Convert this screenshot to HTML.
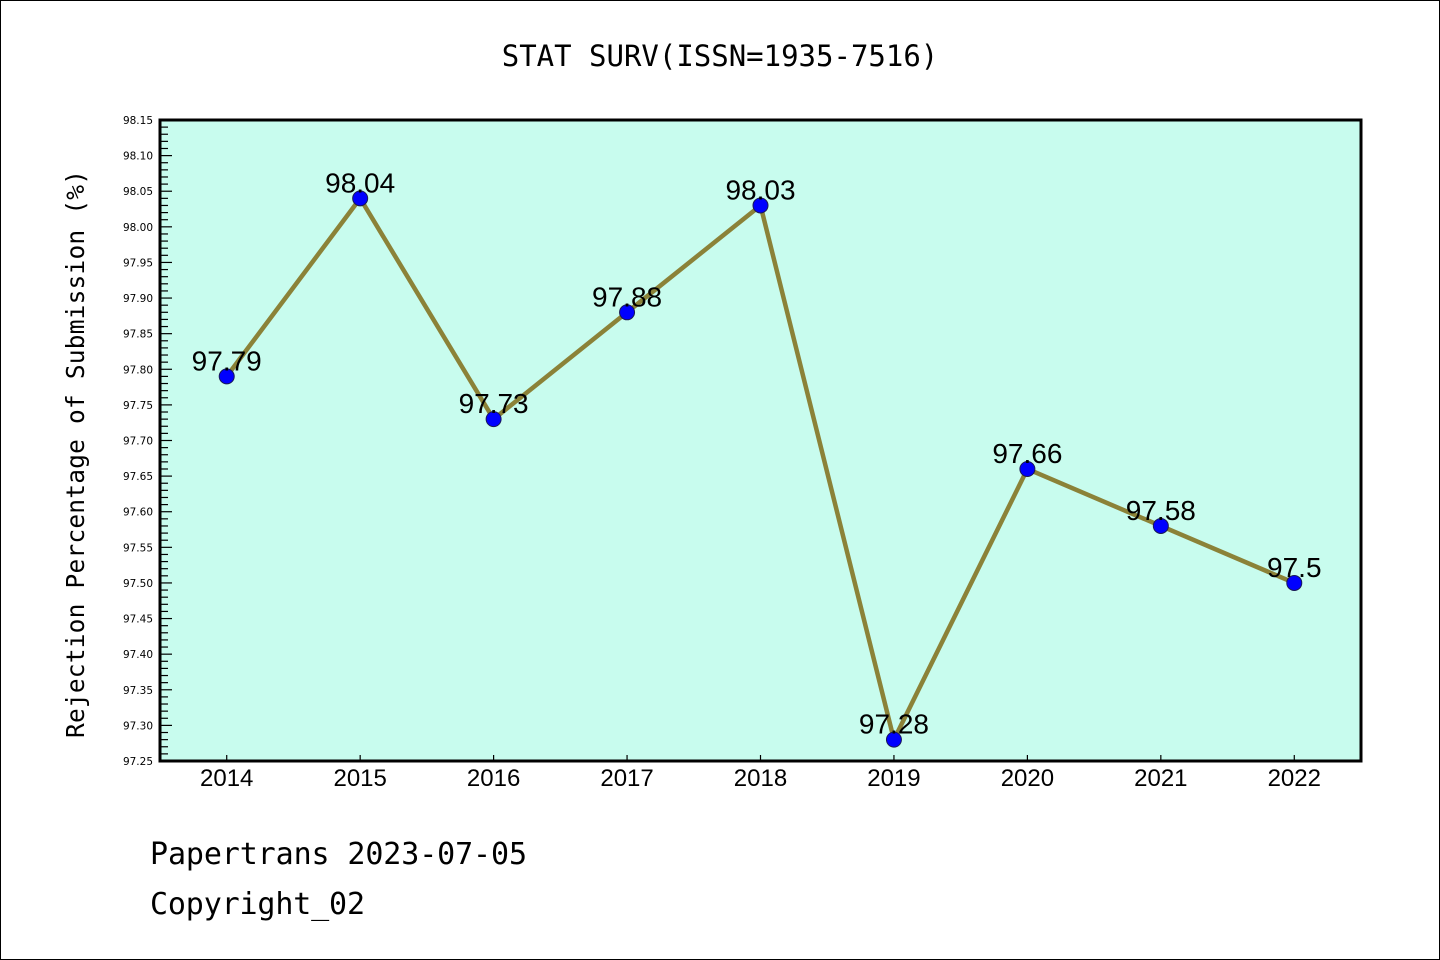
<!DOCTYPE html>
<html><head><meta charset="utf-8"><style>
body{margin:0;background:#fff}
svg{display:block}
</style></head><body>
<svg id="c" width="1440" height="960" xmlns="http://www.w3.org/2000/svg">
<rect x="0.5" y="0.5" width="1439" height="959" fill="#fff" stroke="#000"/>
<text x="720" y="66" text-anchor="middle" font-family="'DejaVu Sans Mono','WenQuanYi Zen Hei',monospace" font-size="29">STAT SURV(ISSN=1935-7516)</text>
<rect x="160" y="120" width="1201" height="641" fill="#c8fcee"/>
<g id="ticks"></g>
<g id="series"></g>
<rect x="160" y="120" width="1201" height="641" fill="none" stroke="#000" stroke-width="3"/>
<text transform="translate(84,454) rotate(-90)" text-anchor="middle" font-family="'DejaVu Sans Mono','WenQuanYi Zen Hei',monospace" font-size="24.5" textLength="568">Rejection Percentage of Submission (%)</text>
<text x="150" y="864" font-family="'DejaVu Sans Mono','WenQuanYi Zen Hei',monospace" font-size="30" textLength="377">Papertrans 2023-07-05</text>
<text x="150" y="914" font-family="'DejaVu Sans Mono','WenQuanYi Zen Hei',monospace" font-size="30" textLength="215">Copyright_02</text>
</svg>
<script>
const years = [2014,2015,2016,2017,2018,2019,2020,2021,2022];
const values = [97.79,98.04,97.73,97.88,98.03,97.28,97.66,97.58,97.5];
const labels = ["97.79","98.04","97.73","97.88","98.03","97.28","97.66","97.58","97.5"];
const yTicks = ["97.25","97.30","97.35","97.40","97.45","97.50","97.55","97.60","97.65","97.70","97.75","97.80","97.85","97.90","97.95","98.00","98.05","98.10","98.15"];
const NS='http://www.w3.org/2000/svg';
const L=160,R=1361,T=120,B=761,yMin=97.25,yMax=98.15,xMin=2013.5,xMax=2022.5;
const sx=v=>L+(v-xMin)/(xMax-xMin)*(R-L);
const sy=v=>B-(v-yMin)/(yMax-yMin)*(B-T);
function mk(tag,attrs,parent){const e=document.createElementNS(NS,tag);for(const k in attrs)e.setAttribute(k,attrs[k]);parent.appendChild(e);return e;}
const tg=document.getElementById('ticks'), sg=document.getElementById('series');
for(let i=0;i<=90;i++){const v=yMin+i*0.01;const y=sy(v);const major=i%5===0;
 const t=mk('line',{x1:L,x2:L+(major?12:8),y1:y,y2:y,stroke:'#000','stroke-width':1.2},tg);
 
 }
yTicks.forEach(s=>{const t=mk('text',{x:L-7,y:sy(parseFloat(s))+4,'text-anchor':'end','font-family':'DejaVu Sans, sans-serif','font-size':10.5},tg);t.textContent=s;
 
 });
years.forEach(yr=>{const x=sx(yr);
 const t=mk('line',{x1:x,x2:x,y1:B,y2:B-6,stroke:'#000','stroke-width':1.2},tg);
 
 
 const l=mk('text',{x:x,y:B+25,'text-anchor':'middle','font-family':'Liberation Sans, sans-serif','font-size':24},tg);l.textContent=yr;
 
 });
const line=mk('polyline',{points:years.map((y,i)=>sx(y)+','+sy(values[i])).join(' '),fill:'none',stroke:'#8b8238','stroke-width':4.5,'stroke-linejoin':'round'},sg);


years.forEach((yr,i)=>{const c=mk('circle',{cx:sx(yr),cy:sy(values[i]),r:7.5,fill:'#0000ff',stroke:'#1a1a55','stroke-width':1},sg);
 
 
 const t=mk('text',{x:sx(yr),y:sy(values[i])-6,'text-anchor':'middle','font-family':'Liberation Sans, sans-serif','font-size':28},sg);t.textContent=labels[i];
 
 });
</script>
</body></html>
